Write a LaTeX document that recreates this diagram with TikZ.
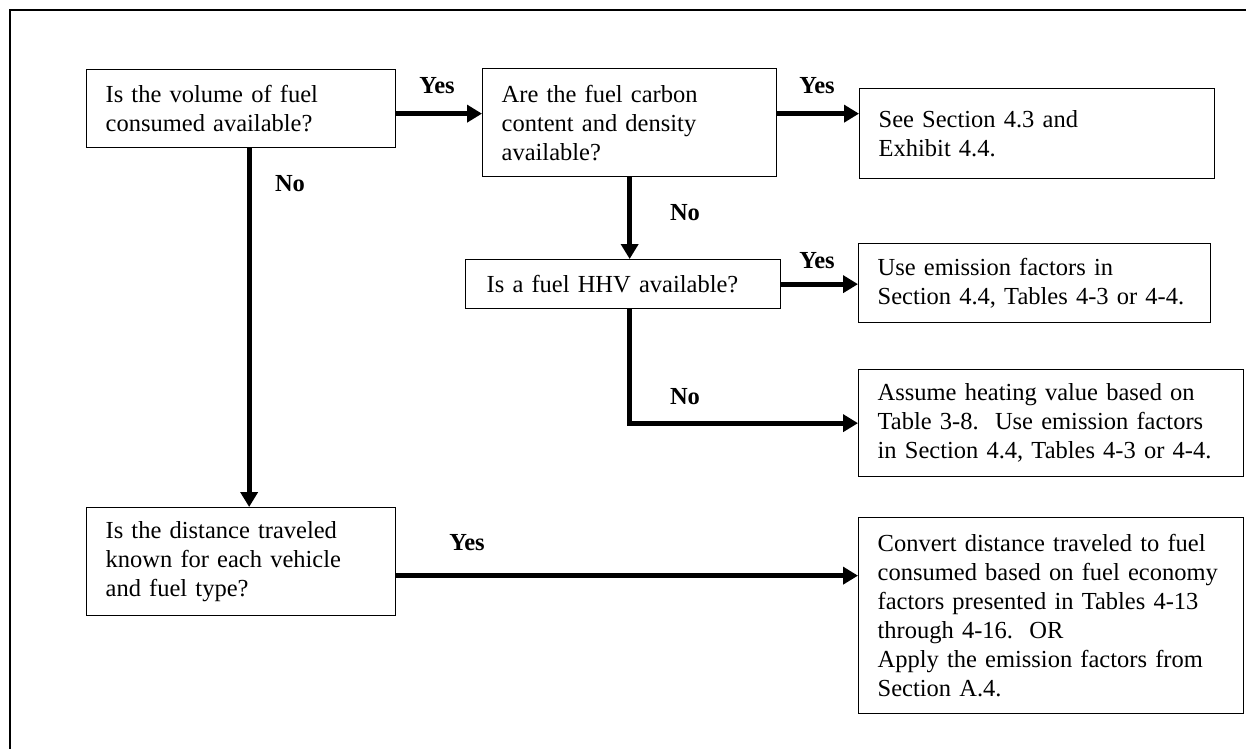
\documentclass[tikz,border=0pt]{standalone}
\usepackage{fontspec}
\setmainfont{Liberation Serif}
\usetikzlibrary{arrows.meta}

\tikzset{
  qbox/.style={draw, line width=1.3pt, anchor=north west, align=left, inner xsep=19pt, inner ysep=0pt, font=\fontsize{24.5}{29}\selectfont},
  flow/.style={line width=5pt, -{Triangle[length=15pt,width=17pt]}},
  lbl/.style={inner sep=0pt, font=\fontsize{24.5}{28}\selectfont\bfseries},
}

\begin{document}
\begin{tikzpicture}[x=1pt,y=-1pt]
\path[use as bounding box] (0,0) rectangle (1246,749);
% frame
\draw[line width=1.5pt] (1246,10) -- (10,10) -- (10,749);
% questions
\node[qbox, minimum width=309, minimum height=78, text width=271] (volume) at (86,69) {Is the volume of fuel\\consumed available?};
\node[qbox, minimum width=294, minimum height=108, text width=256] (carbon) at (482,68) {Are the fuel carbon\\content and density\\available?};
\node[qbox, minimum width=311, minimum height=49, text width=273, inner xsep=21pt] (hhv) at (465,259) {Is a fuel HHV available?};
\node[qbox, minimum width=309, minimum height=108, text width=271] (distance) at (86,507) {Is the distance traveled\\known for each vehicle\\and fuel type?};
% results
\node[qbox, minimum width=355, minimum height=90, text width=317] (sec43) at (859,88) {See Section 4.3 and\\Exhibit 4.4.};
\node[qbox, minimum width=352, minimum height=79, text width=314] (usefac) at (858,243) {Use emission factors in\\Section 4.4, Tables 4-3 or 4-4.};
\node[qbox, minimum width=385, minimum height=107, text width=347] (assume) at (858,369) {Assume heating value based on\\Table 3-8.\ \ Use emission factors\\in Section 4.4, Tables 4-3 or 4-4.};
\node[qbox, minimum width=385, minimum height=196, text width=347] (convert) at (858,517) {Convert distance traveled to fuel\\\mbox{consumed based on fuel economy}\\factors presented in Tables 4-13\\through 4-16.\ \ OR\\Apply the emission factors from\\Section A.4.};
% connectors
\draw[flow] ([yshift=-5]volume.east) -- ([yshift=-5]volume.east -| carbon.west);
\draw[flow] ([yshift=-5]volume.east -| carbon.east) -- ([yshift=-5]volume.east -| sec43.west);
\draw[flow] (carbon.south) -- (carbon.south |- hhv.north);
\draw[flow] (hhv.east) -- (hhv.east -| usefac.west);
\draw[flow] (carbon.south |- hhv.south) |- (assume.west);
\draw[flow] ([xshift=8]volume.south) -- ([xshift=8]volume.south |- distance.north);
\draw[flow] ([yshift=-14]distance.east) -- ([yshift=-14]distance.east -| convert.west);
% labels
\node[lbl] (yes1) at (437,86) {Yes};
\node[lbl] (yes2) at (817,86) {Yes};
\node[lbl] (yes3) at (817,261) {Yes};
\node[lbl] (yes4) at (467,543) {Yes};
\node[lbl] (no1) at (290,184) {No};
\node[lbl] (no2) at (685,213) {No};
\node[lbl] (no3) at (685,397) {No};
\end{tikzpicture}
\end{document}
